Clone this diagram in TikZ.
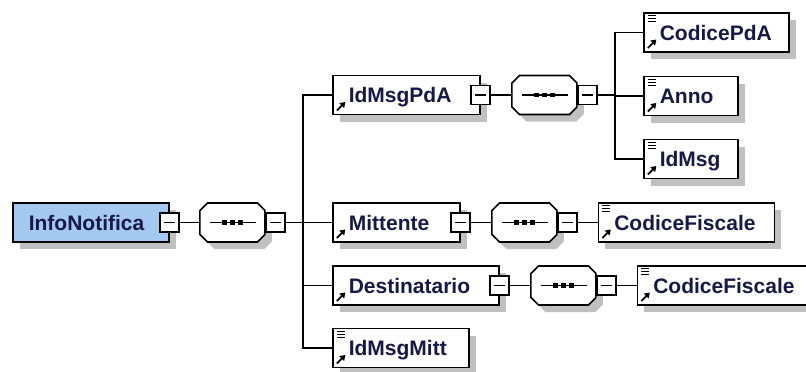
\documentclass[tikz,border=0pt]{standalone}
\usepackage{fontspec}
\setmainfont{Liberation Sans}
\usepackage{xcolor}
\usetikzlibrary{positioning,shadows,arrows.meta}

\definecolor{elemtext}{RGB}{24,24,72}
\definecolor{rootfill}{RGB}{164,201,240}
\definecolor{shadowgray}{RGB}{192,192,192}

\newcommand{\refarrow}{\draw[black,line width=1.8pt,-{Triangle[length=5pt,width=6.5pt]}]
  ([shift={(4pt,4pt)}]path picture bounding box.south west) -- ++(8.5pt,8.5pt);}
\newcommand{\typelines}{\foreach \k in {2.5,5.5,8.5}
  \draw[black,line width=1pt] ([shift={(4pt,-\k pt)}]path picture bounding box.north west) -- ++(8pt,0pt);}

\begin{document}
\begin{tikzpicture}[x=1pt,y=1pt,line width=1.6pt,
  box/.style={draw, fill=white, anchor=west, inner xsep=16pt, inner ysep=0pt,
    text width=#1, align=left, minimum height=39pt, text height=15pt, text depth=0pt,
    font=\fontsize{21}{25}\selectfont\bfseries, text=elemtext,
    general shadow={fill=shadowgray, shadow xshift=7pt, shadow yshift=-7pt}},
  elem/.style={box=#1, path picture={\refarrow}},
  leaf/.style={box=#1, path picture={\refarrow\typelines}},
  minusbox/.style={draw, fill=white, minimum size=19pt, inner sep=0pt,
    path picture={\draw[black,line width=1.2pt] ([xshift=4pt]path picture bounding box.west)
      -- ([xshift=-4pt]path picture bounding box.east);}},
  seqgroup/.pic={
    \draw[fill=white, general shadow={fill=shadowgray, shadow xshift=7pt, shadow yshift=-7pt}]
      (-32.5,0) -- (-32.5,12) -- (-25,19.5) -- (25,19.5) -- (32.5,12)
      -- (32.5,-12) -- (25,-19.5) -- (-25,-19.5) -- (-32.5,-12) -- cycle;
    \draw[line width=1.2pt] (-22.5,0) -- (23.5,0);
    \foreach \dx in {-8,0,8}
      \fill (\dx-2.3,-2.3) rectangle (\dx+2.3,2.3);
    \coordinate (-in) at (-32.5,0);
    \node[minusbox, anchor=west] (-m) at (32.5,0) {};
  },
  node distance=20pt]
\useasboundingbox (0,0) rectangle (806,-372);

% root and its sequence
\node[box=124, fill=rootfill] (infonotifica) at (12,-222.5) {InfoNotifica};
\node[minusbox] (infonotifica-m) at (infonotifica.east) {};
\pic (seq0) at ([xshift=52.5pt]infonotifica-m.east) {seqgroup};
\draw (infonotifica-m) -- (seq0-in);
\coordinate (trunk0) at (303,0);

% children of InfoNotifica
\node[elem=115] (idmsgpda) at (332,-95) {IdMsgPdA};
\node[elem=95] (mittente) at (332,-222.5) {Mittente};
\node[elem=134] (destinatario) at (332,-285.5) {Destinatario};
\node[leaf=104] (idmsgmitt) at (332,-348) {IdMsgMitt};
\draw (seq0-m.east) -- (seq0-m.east -| trunk0);
\draw (idmsgpda.west) -- (idmsgpda.west -| trunk0) -- (idmsgmitt.west -| trunk0) -- (idmsgmitt.west);
\draw (mittente.west) -- (mittente.west -| trunk0);
\draw (destinatario.west) -- (destinatario.west -| trunk0);

% IdMsgPdA
\node[minusbox] (idmsgpda-m) at (idmsgpda.east) {};
\pic (seq1) at ([xshift=53.5pt]idmsgpda-m.east) {seqgroup};
\draw (idmsgpda-m) -- (seq1-in);
\coordinate (trunk1) at (615,0);
\node[leaf=113] (codicepda) at (643,-32.5) {CodicePdA};
\node[leaf=62] (anno) at (643,-96) {Anno};
\node[leaf=62] (idmsg) at (643,-159) {IdMsg};
\draw (seq1-m.east) -- (seq1-m.east -| trunk1);
\draw (codicepda.west) -- (codicepda.west -| trunk1) -- (idmsg.west -| trunk1) -- (idmsg.west);
\draw (anno.west) -- (anno.west -| trunk1);

% Mittente
\node[minusbox] (mittente-m) at (mittente.east) {};
\pic (seq2) at ([xshift=53.5pt]mittente-m.east) {seqgroup};
\node[leaf=144, right=20pt of seq2-m] (codicefiscale1) {CodiceFiscale};
\draw (mittente-m) -- (seq2-in);
\draw (seq2-m) -- (codicefiscale1);

% Destinatario
\node[minusbox] (destinatario-m) at (destinatario.east) {};
\pic (seq3) at ([xshift=53.5pt]destinatario-m.east) {seqgroup};
\node[leaf=144, right=20pt of seq3-m] (codicefiscale2) {CodiceFiscale};
\draw (destinatario-m) -- (seq3-in);
\draw (seq3-m) -- (codicefiscale2);
\end{tikzpicture}
\end{document}
